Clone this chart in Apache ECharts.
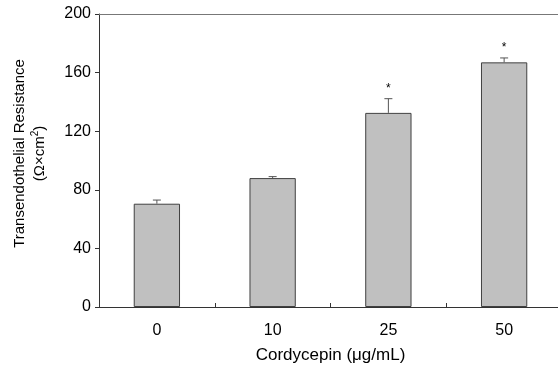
<!DOCTYPE html>
<html><head><meta charset="utf-8">
<script src="https://cdn.jsdelivr.net/npm/echarts@6/dist/echarts.min.js"></script>
<style>html,body{margin:0;padding:0;background:#fff}#c{width:558px;height:369px}</style>
</head><body><div id="c"></div>
<script>
const categories = ['0', '10', '25', '50'];
const means = [70.5, 88, 132.5, 167];
const errors = [2.5, 1, 9.7, 3];
const significant = [false, false, true, true];
const yTicks = [0, 40, 80, 120, 160, 200];

const chart = echarts.init(document.getElementById('c'), null, {renderer: 'canvas'});
const font = 'Liberation Sans, Arial, sans-serif';
const errData = categories.map((c, i) => [i, means[i], errors[i], significant[i] ? 1 : 0]);

chart.setOption({
  animation: false,
  backgroundColor: '#fff',
  grid: {left: 99, right: -4, top: 14, bottom: 62, containLabel: false, outerBoundsMode: 'none'},
  xAxis: [{
    type: 'category', data: categories, boundaryGap: true,
    axisLine: {lineStyle: {color: '#333', width: 1}},
    axisTick: {show: true, inside: true, length: 4, lineStyle: {color: '#333'}},
    axisLabel: {color: '#000', fontSize: 16, fontFamily: font, margin: 16},
    name: 'Cordycepin (μg/mL)', nameLocation: 'middle', nameGap: 40,
    nameTextStyle: {color: '#000', fontSize: 17, fontFamily: font}
  }, {
    type: 'category', data: categories, position: 'top',
    axisLine: {show: true, lineStyle: {color: '#777', width: 1}},
    axisTick: {show: false}, axisLabel: {show: false}
  }],
  yAxis: {
    type: 'value', min: yTicks[0], max: yTicks[yTicks.length - 1], interval: 40,
    axisLine: {show: true, lineStyle: {color: '#333', width: 1}},
    axisTick: {show: true, inside: false, length: 4, lineStyle: {color: '#333'}},
    splitLine: {show: false},
    axisLabel: {color: '#000', fontSize: 16, fontFamily: font, margin: 8},
    name: '{a|Transendothelial Resistance}\n{a|(Ω×cm}{s|2}{a|)}',
    nameLocation: 'middle', nameGap: 49, nameRotate: 90,
    nameTextStyle: {
      fontFamily: font, color: '#000', padding: [0, 0, 0, 14],
      rich: {
        a: {fontSize: 15, fontFamily: font, color: '#000', lineHeight: 20},
        s: {fontSize: 10, fontFamily: font, color: '#000', verticalAlign: 'top', lineHeight: 20, padding: [0, 0, 6, 0]}
      }
    }
  },
  series: [{
    type: 'bar', data: means, barWidth: '40%',
    itemStyle: {color: '#c0c0c0', borderColor: '#404040', borderWidth: 1}
  }, {
    type: 'custom', data: errData,
    renderItem: function (params, api) {
      const x = api.value(0), m = api.value(1), e = api.value(2), s = api.value(3);
      const p0 = api.coord([x, m]);
      const p1 = api.coord([x, m + e]);
      const children = [
        {type: 'line', shape: {x1: p0[0], y1: p0[1], x2: p1[0], y2: p1[1]}, style: {stroke: '#555', lineWidth: 1}},
        {type: 'line', shape: {x1: p1[0] - 4, y1: p1[1], x2: p1[0] + 4, y2: p1[1]}, style: {stroke: '#555', lineWidth: 1}}
      ];
      if (s) {
        children.push({type: 'text', x: p1[0], y: p1[1] - 10,
          style: {text: '*', fill: '#000', font: '12px ' + font, align: 'center', verticalAlign: 'middle'}});
      }
      return {type: 'group', children: children};
    },
    z: 5
  }]
});
</script></body></html>
